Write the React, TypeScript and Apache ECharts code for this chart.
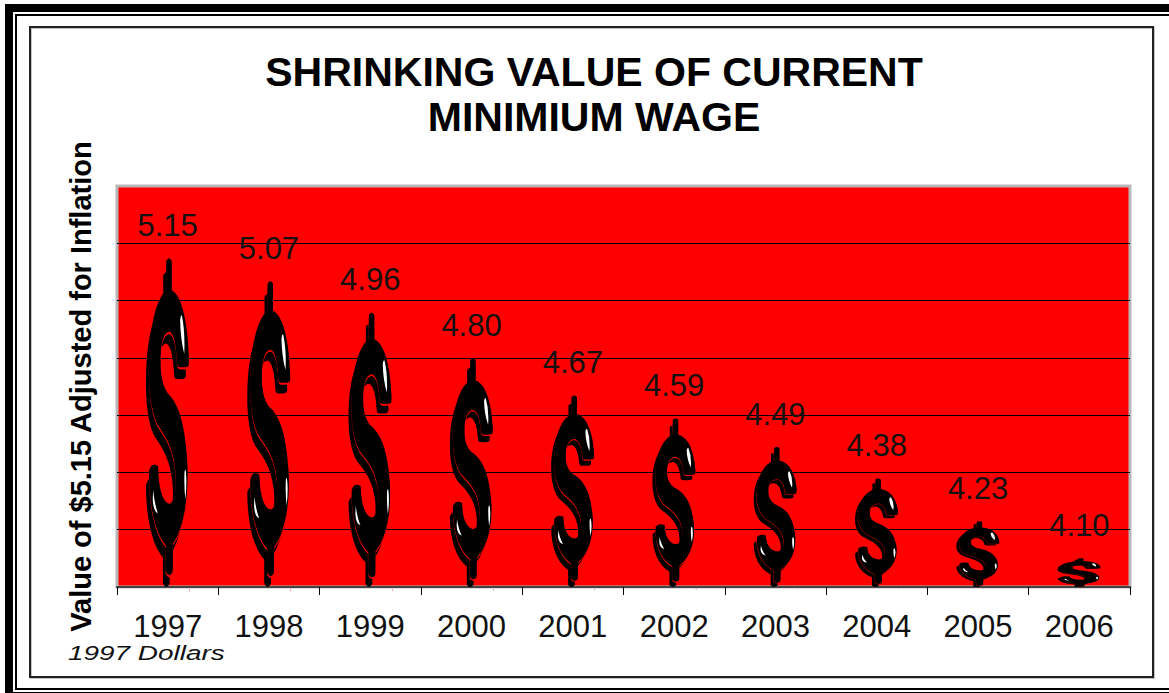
import React, { useEffect, useRef } from "react";
import * as echarts from "echarts";

const titleLines = ["SHRINKING VALUE OF CURRENT", "MINIMIUM WAGE"];
const yAxisTitle = "Value of $5.15 Adjusted for Inflation";
const footnote = "1997 Dollars";
const categories = ["1997", "1998", "1999", "2000", "2001", "2002", "2003", "2004", "2005", "2006"];
const wages = [5.15, 5.07, 4.96, 4.8, 4.67, 4.59, 4.49, 4.38, 4.23, 4.1];
const AXIS_MIN = 4;
const AXIS_MAX = 5.4;
const AXIS_STEP = 0.2;

const FONT = '"Liberation Sans", Arial, sans-serif';
const anchors = "M75 178h0.5v0.5h-0.5zM204.5 1159.5h0.5v0.5h-0.5z";
const mainOutline =
  "M136 188 Q144 172 152 188 L152 275 C182 290 200 370 203 485 Q203 498 190 498 L178 498 Q168 498 168 485 C166 440 160 400 146 392 C130 392 120 420 119 470 C118 520 122 555 140 582 C175 615 192 680 198 790 C202 880 190 975 155 1025 L155 1108 Q145 1128 135 1108 L135 1030 C100 990 85 900 85 815 Q92 785 112 800 C112 860 125 910 146 912 C162 905 168 860 163 805 C155 730 130 700 108 665 C90 625 84 560 85 500 C86 390 105 300 136 275 Z";
const highlights =
  "M182 350 Q192 400 189 465 Q178 420 177 365 Q178 350 182 350 Z M193 810 Q198 850 192 900 Q188 850 190 815 Z M97 870 Q102 915 111 940 Q98 935 96 900 Z";

const shift = (d: string, dx: number, dy: number) =>
  d.replace(/(-?\d+) (-?\d+)/g, (_, x, y) => `${Number(x) + dx} ${Number(y) + dy}`);

const shadowSymbol = "path://" + anchors + shift(mainOutline, -9, 42);
const mainSymbol = "path://" + anchors + mainOutline;
const shineSymbol = "path://" + anchors + highlights;

const layer = (symbol: string, color: string, extra: object = {}) => ({
  type: "pictorialBar",
  data: wages,
  symbol,
  // A pictorial bar's length is measured from value 0, so its symbol covers only the part above the axis minimum.
  symbolSize: (value: number) => [44, `${((value - AXIS_MIN) / value) * 100}%`],
  symbolPosition: "end",
  barWidth: 44,
  barGap: "-100%",
  silent: true,
  itemStyle: { color },
  ...extra,
});

export default function App() {
  const ref = useRef<HTMLDivElement>(null);
  useEffect(() => {
    const chart = echarts.init(ref.current!, undefined, { renderer: "svg" });
    chart.setOption({
      animation: false,
      backgroundColor: "#fff",
      grid: {
        left: 117,
        top: 186,
        width: 1013,
        height: 401,
        show: true,
        backgroundColor: "#ff0000",
        borderColor: "#b8b8b8",
        borderWidth: 3,
      },
      title: {
        text: titleLines.join("\n"),
        left: 589,
        top: 44,
        textAlign: "center",
        textStyle: { fontFamily: FONT, fontWeight: "bold", fontSize: 41, lineHeight: 45, color: "#000" },
      },
      xAxis: {
        type: "category",
        data: categories,
        axisLine: { lineStyle: { color: "#444", width: 2 } },
        axisTick: { show: true, alignWithLabel: false, length: 8, lineStyle: { color: "#000", width: 1 } },
        axisLabel: { fontFamily: FONT, fontSize: 31, color: "#111", margin: 24, interval: 0 },
      },
      yAxis: {
        type: "value",
        min: AXIS_MIN,
        max: AXIS_MAX,
        interval: AXIS_STEP,
        name: yAxisTitle,
        nameLocation: "middle",
        nameRotate: 90,
        nameGap: 22,
        nameTextStyle: { fontFamily: FONT, fontWeight: "bold", fontSize: 29, color: "#000" },
        axisLine: { show: false },
        axisTick: { show: false },
        axisLabel: { show: false },
        splitLine: { show: true, showMaxLine: false, lineStyle: { color: "#000", width: 1 } },
      },
      series: [
        layer(shadowSymbol, "#000"),
        layer(mainSymbol, "#000", { itemStyle: { color: "#000", borderColor: "#ff0000", borderWidth: 2.5 } }),
        layer(mainSymbol, "#000"),
        layer(shineSymbol, "#fff", {
          label: {
            show: true,
            position: "top",
            distance: 17,
            fontFamily: FONT,
            fontSize: 31,
            color: "#111",
            formatter: (p: { value: number }) => p.value.toFixed(2),
          },
        }),
      ],
      graphic: [
        { type: "rect", shape: { x: 9, y: 8, width: 1200, height: 688 }, style: { fill: "none", stroke: "#000", lineWidth: 8 } },
        { type: "rect", shape: { x: 16, y: 15, width: 1200, height: 674 }, style: { fill: "none", stroke: "#000", lineWidth: 2 } },
        { type: "rect", shape: { x: 31, y: 28, width: 1123, height: 650 }, style: { fill: "none", stroke: "#c4c4c4", lineWidth: 2 } },
        { type: "rect", shape: { x: 30, y: 27, width: 1123, height: 650 }, style: { fill: "none", stroke: "#222", lineWidth: 2 } },
        {
          type: "text",
          x: 68,
          y: 642,
          scaleX: 1.33,
          style: { text: footnote, fontFamily: FONT, fontStyle: "italic", fontSize: 21, fill: "#111" },
        },
      ],
    });
    return () => chart.dispose();
  }, []);
  return <div ref={ref} style={{ position: "fixed", left: 0, top: 0, width: 1169, height: 693 }} />;
}
